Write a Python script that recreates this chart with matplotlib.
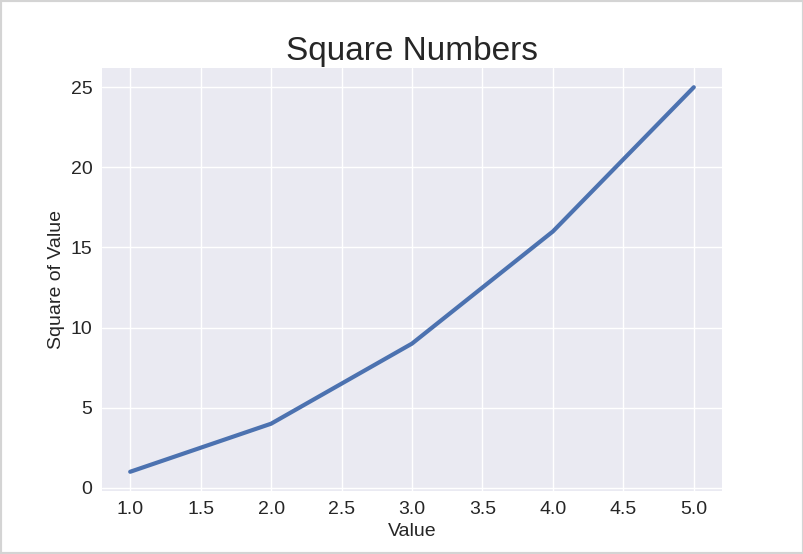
import matplotlib
matplotlib.use('Agg')
import matplotlib.pyplot as plt
from matplotlib.patches import Rectangle

input_values = [1, 2, 3, 4, 5]
squares = [1, 4, 9, 16, 25]

plt.style.use('seaborn-v0_8')
plt.rcParams['font.family'] = ['Liberation Sans', 'DejaVu Sans']

fig, ax = plt.subplots(figsize=(8.04, 5.54), dpi=100)
fig.subplots_adjust(left=102 / 804, right=722 / 804, top=1 - 68 / 554, bottom=1 - 491 / 554)

ax.plot(input_values, squares, linewidth=3, color='#4C72B0')

ax.set_title("Square Numbers", fontsize=24)
ax.set_xlabel("Value", fontsize=14)
ax.set_ylabel("Square of Value", fontsize=14)
ax.tick_params(axis='both', labelsize=14)

# thin grey frame round the whole picture
fig.patches.append(Rectangle((0, 0), 1, 1, transform=fig.transFigure,
                             fill=False, edgecolor='#d4d4d4', linewidth=3))

fig.savefig('out.png', dpi=100)
